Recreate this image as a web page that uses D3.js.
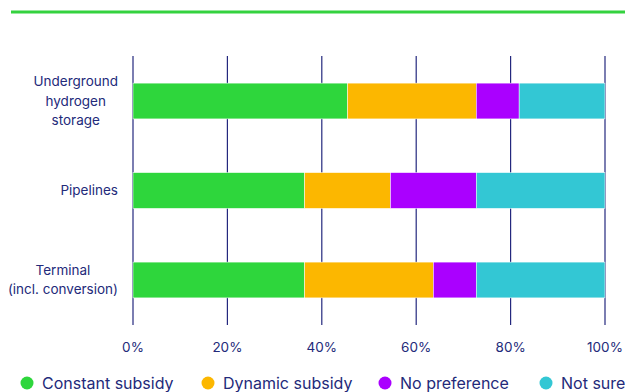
<!DOCTYPE html>
<html lang="en">
<head>
    <meta charset="UTF-8">
    <title>Subsidy preference</title>
    <script src="https://d3js.org/d3.v7.min.js"></script>
    <style>
        body { margin: 0; background: #fff; }
        text { font-family: Inter, "DejaVu Sans", sans-serif; fill: #232a7a; }
        .grid { stroke: #24287e; stroke-width: 1.2; }
        .seg { stroke: #fff; stroke-width: 0.5; }
    </style>
</head>
<body>
<script>
    const width  = 625;
    const height = 392;

    // responses per category (11 respondents), shown as percent
    const categories = ["Underground hydrogen storage", "Pipelines", "Terminal (incl. conversion)"];
    const labelLines = [["Underground", "hydrogen", "storage"], ["Pipelines"], ["Terminal", "(incl. conversion)"]];
    const seriesNames = ["Constant subsidy", "Dynamic subsidy", "No preference", "Not sure"];
    const constant = [45.45, 36.36, 36.36];
    const dynamic  = [27.27, 18.18, 27.27];
    const noPref   = [9.09, 18.18, 9.09];
    const notSure  = [18.18, 27.27, 27.27];
    const ticks = [0, 20, 40, 60, 80, 100];
    const colors = ["#2ed63c", "#fcb700", "#aa00ff", "#33c7d4"];

    const rows = categories.map((c, i) => ({
        cat: c,
        [seriesNames[0]]: constant[i],
        [seriesNames[1]]: dynamic[i],
        [seriesNames[2]]: noPref[i],
        [seriesNames[3]]: notSure[i]
    }));

    const svg = d3.select("body").append("svg").attr("width", width).attr("height", height);

    // green rule at top
    svg.append("line")
        .attr("x1", 11).attr("x2", width)
        .attr("y1", 12).attr("y2", 12)
        .attr("stroke", "#34d23f").attr("stroke-width", 3);

    const x = d3.scaleLinear().domain([0, 100]).range([133, 605]);
    const y = d3.scaleBand().domain(categories).range([56, 325])
        .paddingInner(0.6).paddingOuter(0.303);

    svg.selectAll("line.grid")
        .data(ticks)
        .enter().append("line").attr("class", "grid")
        .attr("x1", d => x(d)).attr("x2", d => x(d))
        .attr("y1", 56).attr("y2", 325);

    const stack = d3.stack().keys(seriesNames)(rows);

    svg.selectAll("g.series")
        .data(stack)
        .enter().append("g").attr("class", "series")
        .attr("fill", (d, i) => colors[i])
        .selectAll("rect")
        .data(d => d)
        .enter().append("rect").attr("class", "seg")
        .attr("x", d => x(d[0]))
        .attr("width", d => x(d[1]) - x(d[0]))
        .attr("y", d => y(d.data.cat))
        .attr("height", y.bandwidth());

    // category labels: lines centred on each other, block right-aligned at 118
    const lineH = 19.5;
    categories.forEach((c, i) => {
        const lines = labelLines[i];
        const g = svg.append("text").attr("font-size", 13.5).attr("text-anchor", "middle");
        const cy = y(c) + y.bandwidth() / 2;
        lines.forEach((l, j) => {
            g.append("tspan")
                .attr("x", 0)
                .attr("y", cy + (j - (lines.length - 1) / 2) * lineH)
                .attr("dy", "0.35em")
                .text(l);
        });
        const w = g.node().getBBox().width;
        g.selectAll("tspan").attr("x", 118 - w / 2);
    });

    // tick labels
    svg.selectAll("text.tick")
        .data(ticks)
        .enter().append("text").attr("class", "tick")
        .attr("x", d => x(d)).attr("y", 347).attr("dy", "0.35em")
        .attr("text-anchor", "middle").attr("font-size", 13.5)
        .text(d => d + "%");

    // legend
    const legendX = [27, 208, 385, 546];
    const lg = svg.selectAll("g.legend")
        .data(seriesNames)
        .enter().append("g").attr("class", "legend")
        .attr("transform", (d, i) => `translate(${legendX[i]},383)`);
    lg.append("circle").attr("r", 6.5).attr("fill", (d, i) => colors[i]);
    lg.append("text").attr("x", 15).attr("dy", "0.35em")
        .attr("font-size", 16).text(d => d);
</script>
</body>
</html>
